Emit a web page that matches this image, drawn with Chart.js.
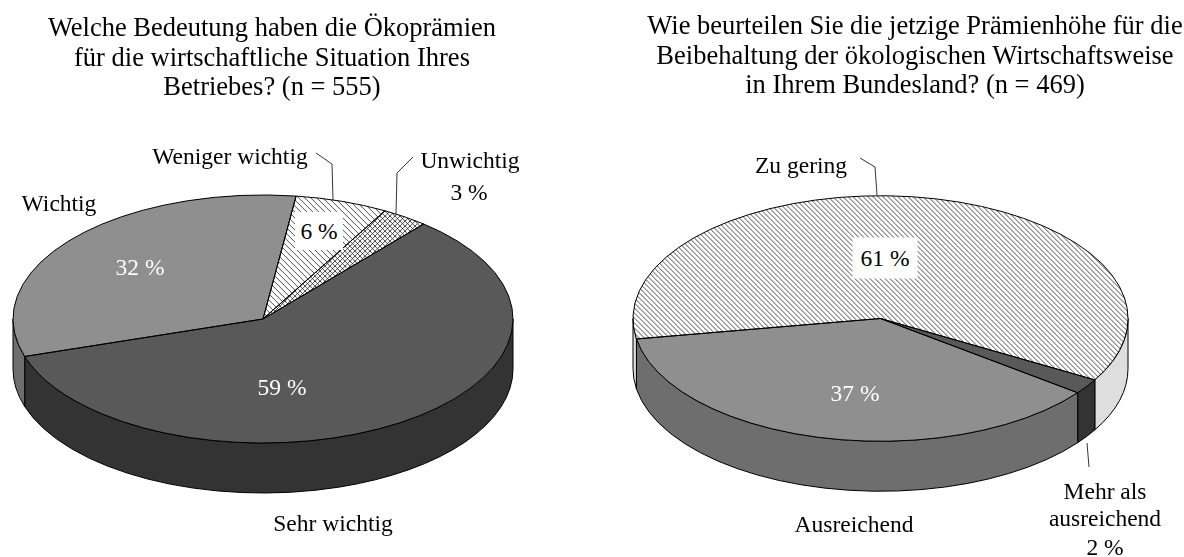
<!DOCTYPE html>
<html>
<head>
<meta charset="utf-8">
<title>Ökoprämien</title>
<script src="https://cdn.jsdelivr.net/npm/chart.js@4"></script>
<style>
    html, body { margin: 0; background: #fff; overflow: hidden; }
    #page { position: relative; width: 1184px; height: 557px; overflow: hidden; font-family: "Liberation Serif", serif; font-size: 23.5px; color: #000; }
    canvas { position: absolute; top: 0; }
    .txt { position: absolute; transform: translate(-50%, -50%); white-space: nowrap; line-height: 26px; text-align: center; }
    .title { font-size: 26.5px; line-height: 29.5px; }
</style>
</head>
<body>
<div id="page">
    <canvas id="pieLeft" width="592" height="557" style="left:0"></canvas>
    <canvas id="pieRight" width="592" height="557" style="left:592px"></canvas>
</div>
<script>
const leftCategories = ["Weniger wichtig", "Unwichtig", "Sehr wichtig", "Wichtig"];
const leftValues = [6, 3, 59, 32];
const leftTitle = ["Welche Bedeutung haben die Ökoprämien", "für die wirtschaftliche Situation Ihres", "Betriebes? (n = 555)"];

const rightCategories = ["Zu gering", "Mehr als ausreichend", "Ausreichend"];
const rightValues = [61, 2, 37];
const rightTitle = ["Wie beurteilen Sie die jetzige Prämienhöhe für die", "Beibehaltung der ökologischen Wirtschaftsweise", "in Ihrem Bundesland? (n = 469)"];

const SQUASH = 0.496;
const DEPTH = 50;

function hatch(cross, step) {
    const c = document.createElement("canvas");
    c.width = step;
    c.height = step;
    const g = c.getContext("2d");
    g.fillStyle = "#fff";
    g.fillRect(0, 0, step, step);
    g.strokeStyle = "#000";
    g.lineWidth = 0.7;
    for (let i = -1; i <= 1; i++) {
        g.beginPath();
        g.moveTo(i * step, 0);
        g.lineTo(i * step + step, step);
        g.stroke();
        if (cross) {
            g.beginPath();
            g.moveTo(i * step + step, 0);
            g.lineTo(i * step, step);
            g.stroke();
        }
    }
    const p = g.createPattern(c, "repeat");
    // the pie is squashed when drawn, stretch the pattern back
    p.setTransform(new DOMMatrix().scale(1, 1 / SQUASH));
    return p;
}

// squash the circle into the tilted disc, cy = where the disc centre lands
function tilt(ctx, arc, cy) {
    ctx.translate(arc.x, cy);
    ctx.scale(1, SQUASH);
    ctx.translate(-arc.x, -arc.y);
}

function drawWalls(ctx, arcs, wallColors, cy) {
    ctx.lineWidth = 1;
    ctx.strokeStyle = "#000";
    arcs.forEach((arc, i) => {
        const p = arc.getProps(["x", "startAngle", "endAngle", "outerRadius"]);
        // only the front half of the disc shows a wall: 0..PI on canvas
        [0, Math.PI * 2].forEach(turn => {
            const a0 = Math.max(p.startAngle - turn, 0);
            const a1 = Math.min(p.endAngle - turn, Math.PI);
            if (a1 <= a0) return;
            const ry = p.outerRadius * SQUASH;
            ctx.beginPath();
            ctx.ellipse(p.x, cy, p.outerRadius, ry, 0, a0, a1);
            ctx.ellipse(p.x, cy + DEPTH, p.outerRadius, ry, 0, a1, a0, true);
            ctx.closePath();
            ctx.fillStyle = wallColors[i];
            ctx.fill();
            ctx.stroke();
        });
    });
}

const tiltedPie = {
    id: "tiltedPie",
    beforeDatasetsDraw(chart, args, opts) {
        const ctx = chart.ctx;
        const arcs = chart.getDatasetMeta(0).data;
        drawWalls(ctx, arcs, opts.wallColors, opts.cy);
        ctx.save();
        tilt(ctx, arcs[0], opts.cy);
    },
    afterDatasetsDraw(chart, args, opts) {
        const ctx = chart.ctx;
        ctx.restore();
        const arcs = chart.getDatasetMeta(0).data;
        ctx.lineWidth = 1;
        ctx.strokeStyle = "#000";
        arcs.forEach(arc => {
            const p = arc.getProps(["x", "y", "startAngle", "endAngle", "outerRadius"]);
            ctx.save();
            tilt(ctx, arc, opts.cy);
            ctx.beginPath();
            ctx.moveTo(p.x, p.y);
            ctx.arc(p.x, p.y, p.outerRadius, p.startAngle, p.endAngle);
            ctx.closePath();
            ctx.restore();
            ctx.stroke();
        });
        (opts.leaders || []).forEach(line => {
            ctx.beginPath();
            line.forEach((pt, i) => i ? ctx.lineTo(pt[0] - chart.canvas.offsetLeft, pt[1]) : ctx.moveTo(pt[0] - chart.canvas.offsetLeft, pt[1]));
            ctx.lineWidth = 0.8;
            ctx.stroke();
        });
    }
};

function makePie(id, labels, values, colors, walls, rotation, padding, cy, leaders) {
    return new Chart(document.getElementById(id), {
        type: "pie",
        data: {
            labels: labels,
            datasets: [{ data: values, backgroundColor: colors, borderWidth: 0 }]
        },
        options: {
            responsive: false,
            animation: false,
            rotation: rotation,
            layout: { padding: padding },
            plugins: {
                legend: { display: false },
                tooltip: { enabled: false },
                tiltedPie: { wallColors: walls, cy: cy, leaders: leaders }
            }
        },
        plugins: [tiltedPie]
    });
}

makePie("pieLeft", leftCategories, leftValues,
    [hatch(false, 6), hatch(true, 5), "#595959", "#8f8f8f"],
    ["#ddd", "#aaa", "#333333", "#6e6e6e"],
    7.6, { left: 13, right: 79, top: 28, bottom: 29 }, 319,
    [[[316, 153], [332, 164], [333, 200]], [[413, 157], [397, 173], [396, 214]]]);

makePie("pieRight", rightCategories, rightValues,
    [hatch(false, 5), "#595959", "#8f8f8f"],
    ["#dedede", "#333333", "#6e6e6e"],
    260.4, { left: 41, right: 56, top: 28, bottom: 29 }, 318.5,
    [[[860, 158], [875, 167], [877, 195]], [[1087, 443], [1089, 467]]]);

// text: [string, centre x, centre y, colour, white box]
const textItems = [
    [leftCategories[0], 230, 156],
    [leftCategories[1], 470, 160],
    [leftValues[1] + " %", 469, 192],
    [leftCategories[3], 59, 203],
    [leftValues[3] + " %", 140, 267, "#fff"],
    [leftValues[0] + " %", 319, 231, "#000", [48, 38]],
    [leftValues[2] + " %", 282, 387, "#fff"],
    [leftCategories[2], 333, 523],
    [rightCategories[0], 801, 165],
    [rightValues[0] + " %", 885, 258, "#000", [65, 41]],
    [rightValues[2] + " %", 855, 393, "#fff"],
    [rightCategories[2], 854, 524],
    ["Mehr als", 1105, 491],
    ["ausreichend", 1105, 518],
    [rightValues[1] + " %", 1105, 547]
];

const page = document.getElementById("page");

function addText(str, x, y, color, box, cls) {
    const d = document.createElement("div");
    d.className = "txt" + (cls ? " " + cls : "");
    d.style.left = x + "px";
    d.style.top = y + "px";
    if (color) d.style.color = color;
    if (box) {
        d.style.background = "#fff";
        d.style.width = box[0] + "px";
        d.style.lineHeight = box[1] + "px";
    }
    d.innerHTML = str;
    page.appendChild(d);
}

textItems.forEach(t => addText(t[0], t[1], t[2], t[3], t[4]));
addText(leftTitle.join("<br>"), 272, 57, null, null, "title");
addText(rightTitle.join("<br>"), 915, 55, null, null, "title");
</script>
</body>
</html>
